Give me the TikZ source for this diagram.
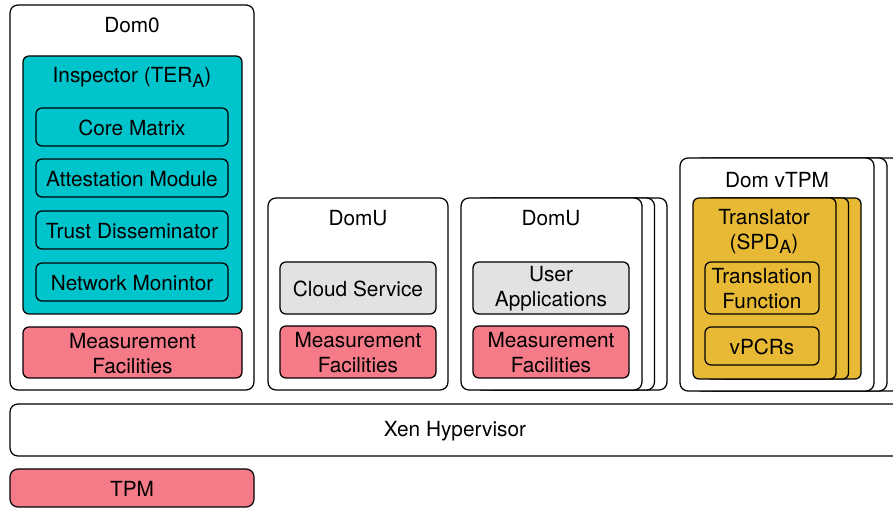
\documentclass[tikz,border=0pt]{standalone}
\usepackage{fontspec}
\setmainfont{TeX Gyre Heros}
\usetikzlibrary{fit}
\definecolor{inspcol}{RGB}{0,196,204}
\definecolor{meascol}{RGB}{245,123,137}
\definecolor{appcol}{RGB}{226,226,226}
\definecolor{transcol}{RGB}{231,185,52}
\newcommand{\lbl}{\fontsize{15.6pt}{18.6pt}\selectfont}
\newcommand{\subA}{\raisebox{-0.45ex}{\fontsize{13.5pt}{14pt}\selectfont A}}
\begin{document}
\begin{tikzpicture}[x=0.75pt,y=-0.75pt,
  box/.style={draw=black, line width=0.95pt, inner sep=0pt},
  outerbox/.style={box, fill=white, rounded corners=6pt},
  innerbox/.style={box, rounded corners=4.5pt},
  inspbox/.style={innerbox, fill=inspcol},
  measbox/.style={innerbox, fill=meascol},
  appbox/.style={innerbox, fill=appcol},
  transbox/.style={innerbox, fill=transcol},
  title/.style={font=\lbl, inner sep=0pt, align=center},
  txt/.style={label={[title, yshift=-0.6pt]center:{#1}}}]
\useasboundingbox (0,0) rectangle (893,509);
\clip (0,0) rectangle (893,509);

% Dom0 with the inspector
\node[outerbox, fit={(10,5) (254,390)}] (dom0) {};
\node[title] (dom0t) at (132,25) {Dom0};
\node[inspbox, fit={(23,56) (242,314)}] (insp) {};
\node[title] (inspt) at (132,77) {Inspector (TER\subA)};
\node[inspbox, fit={(36,108) (228,146)}, txt={Core Matrix}] (core) {};
\node[inspbox, fit={(36,159) (228,197)}, txt={Attestation Module}] (att) {};
\node[inspbox, fit={(36,211) (228,249)}, txt={Trust Disseminator}] (trust) {};
\node[inspbox, fit={(36,263) (228,301)}, txt={Network Monintor}] (net) {};
\node[measbox, fit={(23,327) (242,378)}, txt={Measurement\\Facilities}] (meas0) {};

% DomU with the cloud service
\node[outerbox, fit={(268,198) (448,390)}] (domu1) {};
\node[title] (domu1t) at (358,218) {DomU};
\node[appbox, fit={(280,262) (436,314)}, txt={Cloud Service}] (cloud) {};
\node[measbox, fit={(280,326) (436,378)}, txt={Measurement\\Facilities}] (meas1) {};

% stacked DomU with user applications
\node[outerbox, fit={(486,198) (667,390)}] (domu2c) {};
\node[outerbox, fit={(473.5,198) (654.5,390)}] (domu2b) {};
\node[outerbox, fit={(461,198) (642,390)}] (domu2) {};
\node[title] (domu2t) at (551,218) {DomU};
\node[appbox, fit={(473,262) (629,314)}, txt={User\\Applications}] (apps) {};
\node[measbox, fit={(473,326) (629,378)}, txt={Measurement\\Facilities}] (meas2) {};

% stacked Dom vTPM with translators
\node[outerbox, fit={(706,158) (900,391)}] (vtpmc) {};
\node[outerbox, fit={(693,158) (887,391)}] (vtpmb) {};
\node[outerbox, fit={(680,158) (874,391)}] (vtpm) {};
\node[title] (vtpmt) at (777,180) {Dom vTPM};
\node[transbox, fit={(718,198) (861,379)}] (transc) {};
\node[transbox, fit={(705.5,198) (848.5,379)}] (transb) {};
\node[transbox, fit={(693,198) (836,379)}] (trans) {};
\node[title] (transt) at (764,231.5) {Translator\\(SPD\subA)};
\node[transbox, fit={(705,262) (819,314)}, txt={Translation\\Function}] (tfunc) {};
\node[transbox, fit={(705,327) (819,365)}, txt={vPCRs}] (vpcr) {};

% hypervisor and hardware TPM
\node[outerbox, fit={(10,404) (905,456)}] (xen) {};
\node[title] (xent) at (455,431) {Xen Hypervisor};
\node[measbox, rounded corners=6pt, fit={(10,469) (254,507)}, txt={TPM}] (tpm) {};
\end{tikzpicture}
\end{document}
